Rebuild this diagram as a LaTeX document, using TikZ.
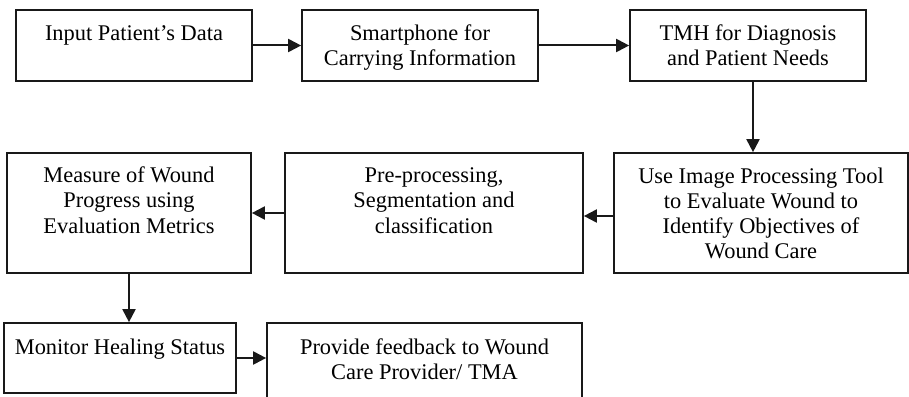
\documentclass[tikz,border=0pt]{standalone}
\usepackage{fontspec}
\setmainfont{Liberation Serif}
\usetikzlibrary{arrows.meta}
\begin{document}
\begin{tikzpicture}[x=1pt,y=-1pt,
  box/.style={draw=black!90, line width=1.7pt, inner sep=0pt, rectangle},
  txt/.style={anchor=north, inner sep=0pt, align=center, font=\fontsize{22.4}{25.3}\selectfont},
  arr/.style={draw=black!90, line width=2pt, -{Triangle[length=13pt,width=13pt]}}]
\useasboundingbox (0,0) rectangle (909,396);
\clip (0,0) rectangle (909,396);
% row 1
\node[box, minimum width=236pt, minimum height=71pt] (b1) at (134,45.5) {};
\node[box, minimum width=236pt, minimum height=71pt] (b2) at (420,45.5) {};
\node[box, minimum width=236pt, minimum height=71pt] (b3) at (748,45.5) {};
% row 2
\node[box, minimum width=244pt, minimum height=120pt] (b4) at (129,213) {};
\node[box, minimum width=298pt, minimum height=120pt] (b5) at (434,213) {};
\node[box, minimum width=294pt, minimum height=120pt] (b6) at (761,213) {};
% row 3
\node[box, minimum width=232pt, minimum height=70pt] (b7) at (120,358) {};
\node[box, minimum width=315pt, minimum height=77pt] (b8) at (424.5,361.5) {};
% texts
\node[txt] (t1) at ([yshift=-13.3pt]b1.north) {\strut Input Patient’s Data};
\node[txt] (t2) at ([yshift=-13.3pt]b2.north) {\strut Smartphone for\\Carrying Information};
\node[txt] (t3) at ([yshift=-13.3pt]b3.north) {\strut TMH for Diagnosis\\and Patient Needs};
\node[txt] (t4) at ([yshift=-12.5pt]b4.north) {\strut Measure of Wound\\Progress using\\Evaluation Metrics};
\node[txt] (t5) at ([yshift=-12.5pt]b5.north) {\strut Pre-processing,\\Segmentation and\\classification};
\node[txt] (t6) at ([yshift=-13pt]b6.north) {\strut Use Image Processing Tool\\to Evaluate Wound to\\Identify Objectives of\\Wound Care};
\node[txt] (t7) at ([yshift=-14pt]b7.north) {\strut Monitor Healing Status};
\node[txt] (t8) at ([yshift=-14pt]b8.north) {\strut Provide feedback to Wound\\Care Provider/ TMA};
% connectors
\draw[arr] (b1.east) -- (b2.west);
\draw[arr] (b2.east) -- (b3.west);
\draw[arr] ([xshift=5pt]b3.south) -- ([xshift=5pt]b3.south |- b6.north);
\draw[arr] ([yshift=-3pt]b6.west) -- ([yshift=-3pt]b6.west -| b5.east);
\draw[arr] (b5.west) -- (b4.east);
\draw[arr] (b4.south) -- (b4.south |- b7.north);
\draw[arr] (b7.east) -- (b7.east -| b8.west);
\end{tikzpicture}
\end{document}
